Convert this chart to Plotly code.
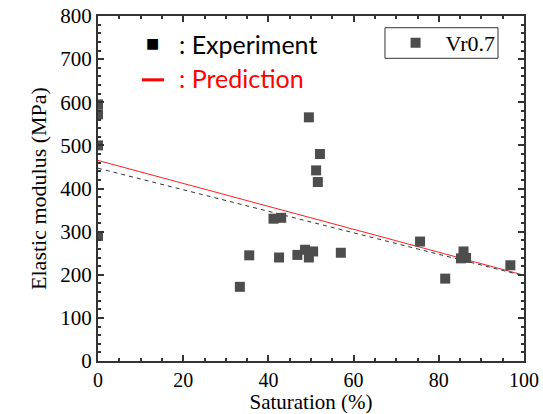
import plotly.graph_objects as go

# Experimental data (Vr0.7)
sat = [0, 0, 0, 0, 49.5, 52.1, 51.2, 51.6, 41.2, 43.0, 35.5, 33.3, 42.5, 46.8,
       48.6, 49.5, 50.5, 57.0, 75.6, 81.5, 85.8, 85.2, 86.4, 96.8]
mod = [595, 572, 500, 290, 565, 480, 442, 415, 330, 332, 245, 172, 240, 246,
       258, 240, 254, 251, 277, 191, 254, 238, 239, 222]

# Prediction line (red) and fit line (dashed)
pred_x = [0, 100]
pred_y = [465, 199]
fit_x = [0, 99]
fit_y = [447, 200]

fig = go.Figure()
fig.add_trace(go.Scatter(x=pred_x, y=pred_y, mode="lines",
                         line=dict(color="#ff2020", width=1), showlegend=False))
fig.add_trace(go.Scatter(x=fit_x, y=fit_y, mode="lines",
                         line=dict(color="#333333", width=1, dash="4px,4px"), showlegend=False))
fig.add_trace(go.Scatter(x=sat, y=mod, mode="markers", name="Vr0.7",
                         marker=dict(symbol="square", size=10, color="#4d4d4d",
                                     line=dict(width=0))))

serif = "Times New Roman, Liberation Serif, serif"
axis_common = dict(showline=True, linecolor="#333333", linewidth=2, mirror="ticks",
                   ticks="inside", ticklen=6, tickwidth=2, tickcolor="#333333",
                   showgrid=False, zeroline=False, automargin=False,
                   minor=dict(ticks="inside", ticklen=3, tickwidth=1.5, tickcolor="#333333"))

fig.update_xaxes(range=[0, 100], dtick=20, ticklabelstandoff=0,
                 tickfont=dict(family=serif, size=20, color="black"),
                 title=dict(text="Saturation (%)", standoff=3,
                            font=dict(family=serif, size=21, color="black")), **axis_common)
fig.update_yaxes(range=[0, 800], dtick=100,
                 tickfont=dict(family=serif, size=21, color="black"),
                 title=dict(text="Elastic modulus (MPa)", standoff=8,
                            font=dict(family=serif, size=22, color="black")), **axis_common)

fig.update_layout(
    width=543, height=414,
    margin=dict(l=98, r=19, t=16, b=53),
    font=dict(family=serif, color="black"),
    plot_bgcolor="white", paper_bgcolor="white",
    legend=dict(x=0.945, y=0.922, xanchor="right", yanchor="middle",
                borderwidth=0, bgcolor="rgba(0,0,0,0)",
                font=dict(family=serif, size=22, color="black"), itemwidth=50),
)

# legend frame
fig.add_shape(type="rect", xref="paper", yref="paper", x0=0.6737, x1=0.939, y0=0.8774, y1=0.966,
              line=dict(color="#333333", width=1), fillcolor="rgba(0,0,0,0)")

sans = "Lato"
fig.add_annotation(xref="paper", yref="paper", x=0.129, y=0.922, text="■", showarrow=False,
                   font=dict(family="DejaVu Sans", size=14, color="black"),
                   xanchor="center", yanchor="middle")
fig.add_annotation(xref="paper", yref="paper", x=0.185, y=0.92, text=": Experiment", showarrow=False,
                   font=dict(family=sans, size=25, color="black"), xanchor="left", yanchor="middle")
fig.add_shape(type="line", xref="paper", yref="paper", x0=0.103, x1=0.155, y0=0.815, y1=0.815,
              line=dict(color="red", width=3))
fig.add_annotation(xref="paper", yref="paper", x=0.185, y=0.82, text=": Prediction", showarrow=False,
                   font=dict(family=sans, size=25, color="red"), xanchor="left", yanchor="middle")

fig.write_html("out.html", config={"displayModeBar": False},
               post_script="document.body.style.margin='0';")
